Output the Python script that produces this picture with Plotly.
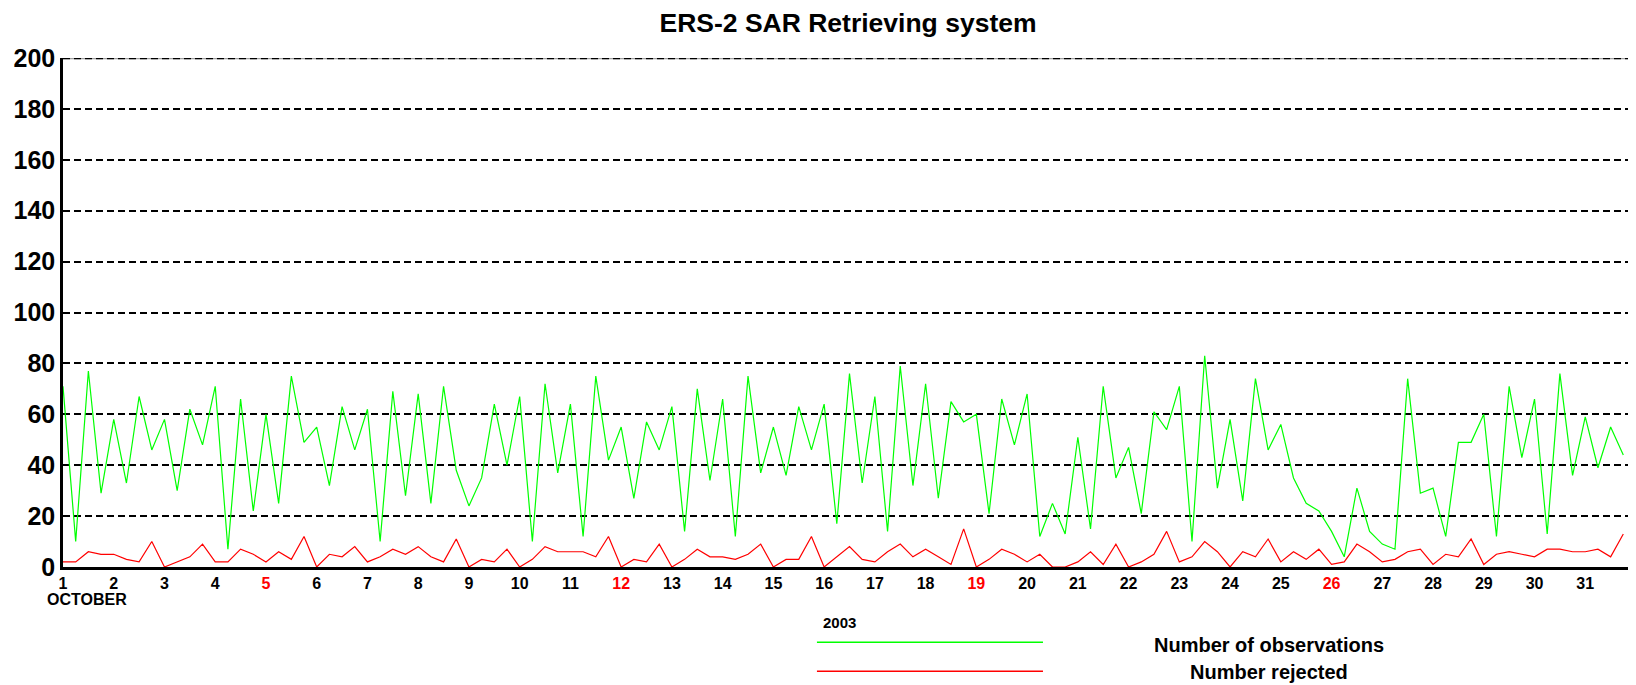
import plotly.graph_objects as go

# ---- data -------------------------------------------------------------
days = list(range(1, 32))
quarters = [0.0, 0.25, 0.5, 0.75]
sundays = [5, 12, 19, 26]
month_label = "OCTOBER"
year_label = "2003"
title_text = "ERS-2 SAR Retrieving system"
series_names = ["Number of observations", "Number rejected"]

observations = [
    71, 10, 77, 29,  58, 33, 67, 46,  58, 30, 62, 48,  71, 7, 66, 22,
    60, 25, 75, 49,  55, 32, 63, 46,  62, 10, 69, 28,  68, 25, 71, 38,
    24, 35, 64, 40,  67, 10, 72, 37,  64, 12, 75, 42,  55, 27, 57, 46,
    63, 14, 70, 34,  66, 12, 75, 37,  55, 36, 63, 46,  64, 17, 76, 33,
    67, 14, 79, 32,  72, 27, 65, 57,  60, 21, 66, 48,  68, 12, 25, 13,
    51, 15, 71, 35,  47, 21, 61, 54,  71, 10, 83, 31,  58, 26, 74, 46,
    56, 35, 25, 22,  14, 4, 31, 14,   9, 7, 74, 29,   31, 12, 49, 49,
    60, 12, 71, 43,  66, 13, 76, 36,  59, 39, 55, 44,
]
rejected = [
    2, 2, 6, 5,  5, 3, 2, 10,  0, 2, 4, 9,  2, 2, 7, 5,
    2, 6, 3, 12,  0, 5, 4, 8,  2, 4, 7, 5,  8, 4, 2, 11,
    0, 3, 2, 7,  0, 3, 8, 6,  6, 6, 4, 12,  0, 3, 2, 9,
    0, 3, 7, 4,  4, 3, 5, 9,  0, 3, 3, 12,  0, 4, 8, 3,
    2, 6, 9, 4,  7, 4, 1, 15,  0, 3, 7, 5,  2, 5, 0, 0,
    2, 6, 1, 9,  0, 2, 5, 14,  2, 4, 10, 6,  0, 6, 4, 11,
    2, 6, 3, 7,  1, 2, 9, 6,  2, 3, 6, 7,  1, 5, 4, 11,
    1, 5, 6, 5,  4, 7, 7, 6,  6, 7, 4, 13,
]
y_ticks = list(range(0, 201, 20))

# time axis: 4 observations per day (00, 06, 12, 18 UTC)
x_time = [d + q for d in days for q in quarters]

GREEN = "#00ff00"
RED = "#ff0000"
FONT = "Liberation Sans, Arial, sans-serif"

# the page body adds an 8px margin; compensate so the figure fills the window
OFF = 8
W, H = 1636 - OFF, 685 - OFF

fig = go.Figure()
fig.add_trace(go.Scatter(x=x_time, y=observations, mode="lines",
                         line=dict(color=GREEN, width=1.2), name=series_names[0],
                         showlegend=False))
fig.add_trace(go.Scatter(x=x_time, y=rejected, mode="lines",
                         line=dict(color=RED, width=1.2), name=series_names[1],
                         showlegend=False))

tick_text = [
    f'<span style="color:{RED}"><b>{d}</b></span>' if d in sundays else f"<b>{d}</b>"
    for d in days
]

fig.update_layout(
    width=W, height=H,
    margin=dict(l=63 - OFF, r=0, t=58 - OFF, b=118),
    paper_bgcolor="white", plot_bgcolor="white",
    font=dict(family=FONT, color="black"),
    title=dict(text=f"<b>{title_text}</b>", x=(848 - OFF) / W, xanchor="center",
               y=1 - (23 - OFF) / H, yanchor="middle", yref="container",
               font=dict(size=26.5, family=FONT, color="black")),
    xaxis=dict(range=[1, 32], tickmode="array", tickvals=days, ticktext=tick_text,
               showgrid=False, zeroline=False, showline=True, linecolor="black",
               linewidth=3, ticks="", tickfont=dict(size=16, family=FONT, color="black")),
    yaxis=dict(range=[0, 200], tickmode="array", tickvals=y_ticks,
               ticktext=[f"<b>{v}</b>" for v in y_ticks],
               showgrid=True, gridcolor="black", gridwidth=1.5, griddash="7px,4px",
               zeroline=False, showline=True, linecolor="black", linewidth=2.5,
               ticks="", tickfont=dict(size=25, family=FONT, color="black")),
)

# top border line: grey base with black dashes on top
fig.add_shape(type="line", xref="paper", yref="y", x0=0, x1=1, y0=200, y1=200,
              line=dict(color="#a0a0a0", width=2.5), layer="below")
fig.add_shape(type="line", xref="paper", yref="y", x0=0, x1=1, y0=200, y1=200,
              line=dict(color="black", width=2.5, dash="7px,4px"), layer="below")

# month label under the axis
fig.add_annotation(text=f"<b>{month_label}</b>", xref="paper", yref="paper",
                   x=-0.0114, y=-0.0635, xanchor="left", yanchor="middle",
                   showarrow=False, font=dict(size=16, family=FONT, color="black"))

# custom legend
fig.add_annotation(text=f"<b>{year_label}</b>", xref="paper", yref="paper",
                   x=0.4819, y=-0.1086, xanchor="left", yanchor="middle",
                   showarrow=False, font=dict(size=15, family=FONT, color="black"))
for color, ly, name, ty in [(GREEN, -0.1479, series_names[0], -0.1538),
                            (RED, -0.2049, series_names[1], -0.2069)]:
    fig.add_shape(type="line", xref="paper", yref="paper", x0=0.4793, x1=0.623,
                  y0=ly, y1=ly, line=dict(color=color, width=1.5))
    fig.add_annotation(text=f"<b>{name}</b>", xref="paper", yref="paper",
                       x=0.7667, y=ty, xanchor="center", yanchor="middle",
                       showarrow=False, font=dict(size=20, family=FONT, color="black"))

fig.write_html("out.html")
